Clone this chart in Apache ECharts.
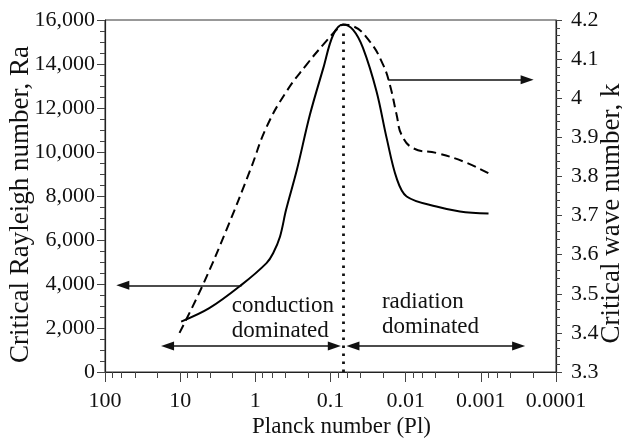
<!DOCTYPE html>
<html>
<head>
<meta charset="utf-8">
<script src="https://cdn.jsdelivr.net/npm/echarts@6/dist/echarts.min.js"></script>
<style>
  html, body { margin: 0; background: #fff; }
  #chart { width: 622px; height: 438px; }
</style>
</head>
<body>
<div id="chart"></div>
<script>
// Planck number (x, log scale, reversed) -> critical Rayleigh number (left axis, solid)
const rayleighCurve = [
  [9.7, 2290], [4.1, 2900], [1.53, 3960], [0.71, 4950],
  [0.58, 5400], [0.47, 6150], [0.39, 7370], [0.28, 9190], [0.188, 11690],
  [0.125, 13800], [0.092, 15330], [0.068, 15790], [0.05, 15550], [0.037, 14730],
  [0.0244, 12750], [0.0179, 10630], [0.0132, 8810], [0.0097, 7980], [0.0039, 7520],
  [0.0019, 7300], [0.00079, 7200]
];
// Planck number -> critical wave number k (right axis, dashed)
const waveCurve = [
  [10.2, 3.40], [4.98, 3.523], [2.43, 3.663], [1.16, 3.818], [0.71, 3.926],
  [0.386, 4.017], [0.208, 4.086], [0.125, 4.137], [0.083, 4.175], [0.068, 4.188],
  [0.05, 4.184], [0.03, 4.145], [0.02, 4.086], [0.0162, 4.034], [0.0132, 3.958],
  [0.0113, 3.906], [0.0079, 3.872], [0.0039, 3.860], [0.0017, 3.838], [0.00079, 3.808]
];

const planckTickLabels = ['0.0001', '0.001', '0.01', '0.1', '1', '10', '100'];
const planckMinorTicks = [
  0.0002, 0.0004, 0.0006, 0.0008, 0.002, 0.004, 0.006, 0.008,
  0.02, 0.04, 0.06, 0.08, 0.2, 0.4, 0.6, 0.8,
  2, 4, 6, 8, 20, 40, 60, 80
];
const regimeBoundary = 0.068;   // dotted line
const annotations = [
  { text: 'conduction\ndominated', at: [2.06, 2450] },
  { text: 'radiation\ndominated', at: [0.0207, 2630] }
];

const FONT = '"Liberation Serif", "Times New Roman", serif';
const INK = '#111';

function withCommas(v) {
  return String(v).replace(/\B(?=(\d{3})+(?!\d))/g, ',');
}

const chart = echarts.init(document.getElementById('chart'));

const arrowStyle = { color: '#111', width: 1.5, type: 'solid' };

chart.setOption({
  animation: false,
  backgroundColor: '#fff',
  grid: {
    left: 105, right: 66, top: 20, bottom: 66,
    show: true, borderColor: '#333', borderWidth: 1,
    containLabel: false, outerBoundsMode: 'none'
  },
  xAxis: [{
    type: 'log', logBase: 10, min: 0.0001, max: 100, inverse: true, position: 'bottom',
    axisLine: { onZero: false, lineStyle: { color: '#222', width: 1.2 } },
    axisTick: { length: 10, lineStyle: { color: '#444' } },
    axisLabel: {
      margin: 18, fontSize: 22, fontFamily: FONT, color: INK,
      showMinLabel: true, showMaxLabel: true,
      formatter: v => planckTickLabels[Math.round(Math.log10(v)) + 4]
    },
    splitLine: { show: false },
    name: 'Planck number (Pl)', nameLocation: 'middle', nameGap: 43, nameMoveOverlap: false,
    nameTextStyle: { fontSize: 23, fontFamily: FONT, color: INK, padding: [0, 0, 0, 22] }
  }, {
    // minor ticks of the log axis, placed in log10 space
    type: 'value', min: -4, max: 2, inverse: true, position: 'bottom',
    axisLine: { show: false, onZero: false },
    axisLabel: { show: false },
    splitLine: { show: false },
    axisTick: { length: 6, lineStyle: { color: '#444' }, customValues: planckMinorTicks.map(Math.log10) }
  }],
  yAxis: [{
    type: 'value', min: 0, max: 16000, interval: 2000, position: 'left',
    axisLine: { show: true, onZero: false, lineStyle: { color: '#222', width: 1.2 } },
    axisTick: { show: true, length: 8, lineStyle: { color: '#444' } },
    minorTick: { show: true, splitNumber: 4, length: 5, lineStyle: { color: '#444' } },
    axisLabel: { margin: 10, fontSize: 22, fontFamily: FONT, color: INK, formatter: withCommas },
    splitLine: { show: false },
    name: 'Critical Rayleigh number, Ra', nameLocation: 'middle', nameGap: 71, nameRotate: 90,
    nameMoveOverlap: false,
    nameTextStyle: { fontSize: 27, fontFamily: FONT, color: INK, padding: [0, 17, 0, 0] }
  }, {
    type: 'value', min: 3.3, max: 4.2, interval: 0.1, position: 'right',
    axisLine: { show: true, onZero: false, lineStyle: { color: '#222', width: 1.2 } },
    axisTick: { show: true, length: 6, lineStyle: { color: '#444' } },
    minorTick: { show: true, splitNumber: 5, length: 4, lineStyle: { color: '#444' } },
    axisLabel: { margin: 15, fontSize: 22, fontFamily: FONT, color: INK },
    splitLine: { show: false },
    name: 'Critical wave number, k', nameLocation: 'middle', nameGap: 42, nameRotate: 90,
    nameMoveOverlap: false,
    nameTextStyle: { fontSize: 27, fontFamily: FONT, color: INK, padding: [0, 35, 0, 0] }
  }],
  series: [{
    type: 'line', xAxisIndex: 0, yAxisIndex: 0,
    data: rayleighCurve, smooth: 0.35, symbol: 'none',
    lineStyle: { color: '#000', width: 2 },
    markLine: {
      silent: true, animation: false,
      symbol: ['none', 'triangle'], symbolSize: [9, 13],
      label: { show: false },
      emphasis: { disabled: true },
      lineStyle: arrowStyle,
      data: [
        // dotted regime boundary
        [{ coord: [regimeBoundary, 0], symbol: 'none',
           lineStyle: { type: [2.5, 5.5], width: 2.8, color: '#111' } },
         { coord: [regimeBoundary, 15600], symbol: 'none' }],
        // arrow to the left axis
        [{ coord: [1.53, 3940], symbol: 'none' }, { coord: [58, 3940] }],
        // conduction span
        [{ coord: [14.7, 1180], symbol: 'triangle' }, { coord: [0.0889, 1180] }],
        // radiation span
        [{ coord: [0.0503, 1180], symbol: 'triangle' }, { coord: [0.000314, 1180] }]
      ]
    },
    markPoint: {
      silent: true, symbol: 'circle', symbolSize: 0,
      label: {
        show: true, position: 'right', distance: 0, align: 'left',
        fontSize: 23, lineHeight: 25, fontFamily: FONT, color: INK,
        formatter: p => p.name
      },
      data: annotations.map(a => ({ name: a.text, coord: a.at }))
    }
  }, {
    type: 'line', xAxisIndex: 0, yAxisIndex: 1,
    data: waveCurve, smooth: 0.45, symbol: 'none',
    lineStyle: { color: '#000', width: 2, type: [9, 5] },
    markLine: {
      silent: true, animation: false,
      symbol: ['none', 'triangle'], symbolSize: [9, 13],
      label: { show: false },
      emphasis: { disabled: true },
      lineStyle: arrowStyle,
      data: [
        [{ coord: [0.0171, 4.047] }, { coord: [0.000242, 4.047] }]
      ]
    }
  }]
});
</script>
</body>
</html>
